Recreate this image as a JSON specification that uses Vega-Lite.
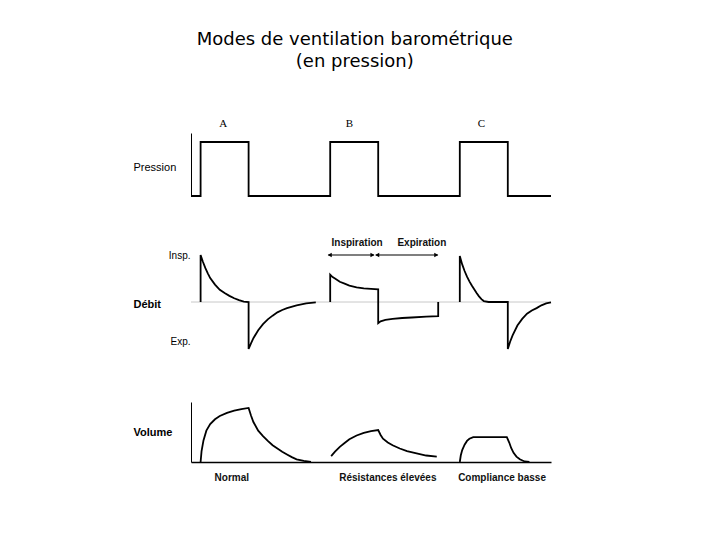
{
  "$schema": "https://vega.github.io/schema/vega-lite/v6.json",
  "background": "white",
  "padding": {"left": 133, "top": 31, "right": 5, "bottom": 5},
  "title": {
    "text": ["Modes de ventilation barométrique", "(en pression)"],
    "font": "DejaVu Sans",
    "fontSize": 18,
    "fontWeight": "normal",
    "color": "black",
    "lineHeight": 22,
    "anchor": "middle",
    "offset": 47,
    "dx": 11
  },
  "spacing": 53,
  "bounds": "flush",
  "config": {
    "view": {"stroke": null},
    "axis": {
      "grid": false,
      "ticks": false,
      "labels": false,
      "domainColor": "black",
      "titleColor": "black",
      "titleFont": "Liberation Sans",
      "titleFontSize": 11,
      "titleFontWeight": "bold",
      "titleAngle": 0,
      "titleAlign": "left",
      "titleBaseline": "middle",
      "titleX": -58,
      "labelFont": "Liberation Sans",
      "labelColor": "black"
    }
  },
  "datasets": {
    "pression": [
      {"i": 0, "t": 0, "v": 0}, {"i": 1, "t": 0.2, "v": 0}, {"i": 2, "t": 0.2, "v": 1},
      {"i": 3, "t": 1.2, "v": 1}, {"i": 4, "t": 1.2, "v": 0}, {"i": 5, "t": 2.9, "v": 0},
      {"i": 6, "t": 2.9, "v": 1}, {"i": 7, "t": 3.9, "v": 1}, {"i": 8, "t": 3.9, "v": 0},
      {"i": 9, "t": 5.6, "v": 0}, {"i": 10, "t": 5.6, "v": 1}, {"i": 11, "t": 6.6, "v": 1},
      {"i": 12, "t": 6.6, "v": 0}, {"i": 13, "t": 7.5, "v": 0}
    ],
    "lettres": [
      {"t": 0.67, "v": 1.33, "texte": "A"},
      {"t": 3.3, "v": 1.33, "texte": "B"},
      {"t": 6.05, "v": 1.33, "texte": "C"}
    ],
    "zero": [
      {"t": 0, "t2": 7.5, "v": 0}
    ],
    "debit": [
      {"seg": "A", "i": 0, "t": 0.2, "v": 0}, {"seg": "A", "i": 1, "t": 0.2, "v": 1.0},
      {"seg": "A", "i": 2, "t": 0.25, "v": 0.85}, {"seg": "A", "i": 3, "t": 0.3, "v": 0.72},
      {"seg": "A", "i": 4, "t": 0.35, "v": 0.61}, {"seg": "A", "i": 5, "t": 0.4, "v": 0.51},
      {"seg": "A", "i": 6, "t": 0.5, "v": 0.37}, {"seg": "A", "i": 7, "t": 0.6, "v": 0.26},
      {"seg": "A", "i": 8, "t": 0.7, "v": 0.19}, {"seg": "A", "i": 9, "t": 0.8, "v": 0.13},
      {"seg": "A", "i": 10, "t": 0.9, "v": 0.08}, {"seg": "A", "i": 11, "t": 1.0, "v": 0.04},
      {"seg": "A", "i": 12, "t": 1.1, "v": 0.01}, {"seg": "A", "i": 13, "t": 1.2, "v": 0},
      {"seg": "A", "i": 14, "t": 1.2, "v": -1.0}, {"seg": "A", "i": 15, "t": 1.25, "v": -0.88},
      {"seg": "A", "i": 16, "t": 1.3, "v": -0.77}, {"seg": "A", "i": 17, "t": 1.4, "v": -0.6},
      {"seg": "A", "i": 18, "t": 1.5, "v": -0.47}, {"seg": "A", "i": 19, "t": 1.6, "v": -0.37},
      {"seg": "A", "i": 20, "t": 1.7, "v": -0.29}, {"seg": "A", "i": 21, "t": 1.8, "v": -0.22},
      {"seg": "A", "i": 22, "t": 1.9, "v": -0.17}, {"seg": "A", "i": 23, "t": 2.0, "v": -0.13},
      {"seg": "A", "i": 24, "t": 2.2, "v": -0.07}, {"seg": "A", "i": 25, "t": 2.4, "v": -0.03},
      {"seg": "A", "i": 26, "t": 2.6, "v": -0.01},
      {"seg": "B", "i": 30, "t": 2.9, "v": 0}, {"seg": "B", "i": 31, "t": 2.9, "v": 0.58},
      {"seg": "B", "i": 32, "t": 2.95, "v": 0.53}, {"seg": "B", "i": 33, "t": 3.0, "v": 0.5},
      {"seg": "B", "i": 34, "t": 3.1, "v": 0.43}, {"seg": "B", "i": 35, "t": 3.2, "v": 0.39},
      {"seg": "B", "i": 36, "t": 3.3, "v": 0.35}, {"seg": "B", "i": 37, "t": 3.45, "v": 0.31},
      {"seg": "B", "i": 38, "t": 3.6, "v": 0.29}, {"seg": "B", "i": 39, "t": 3.75, "v": 0.28},
      {"seg": "B", "i": 40, "t": 3.9, "v": 0.27}, {"seg": "B", "i": 41, "t": 3.9, "v": -0.45},
      {"seg": "B", "i": 42, "t": 3.95, "v": -0.41}, {"seg": "B", "i": 43, "t": 4.05, "v": -0.38},
      {"seg": "B", "i": 44, "t": 4.2, "v": -0.36}, {"seg": "B", "i": 45, "t": 4.4, "v": -0.34},
      {"seg": "B", "i": 46, "t": 4.6, "v": -0.33}, {"seg": "B", "i": 47, "t": 4.9, "v": -0.31},
      {"seg": "B", "i": 48, "t": 5.15, "v": -0.3}, {"seg": "B", "i": 49, "t": 5.15, "v": 0},
      {"seg": "C", "i": 60, "t": 5.6, "v": 0}, {"seg": "C", "i": 61, "t": 5.6, "v": 0.98},
      {"seg": "C", "i": 62, "t": 5.65, "v": 0.8}, {"seg": "C", "i": 63, "t": 5.7, "v": 0.66},
      {"seg": "C", "i": 64, "t": 5.75, "v": 0.54}, {"seg": "C", "i": 65, "t": 5.8, "v": 0.44},
      {"seg": "C", "i": 66, "t": 5.85, "v": 0.35}, {"seg": "C", "i": 67, "t": 5.9, "v": 0.27},
      {"seg": "C", "i": 68, "t": 5.95, "v": 0.19}, {"seg": "C", "i": 69, "t": 6.0, "v": 0.12},
      {"seg": "C", "i": 70, "t": 6.05, "v": 0.06}, {"seg": "C", "i": 71, "t": 6.1, "v": 0.02},
      {"seg": "C", "i": 72, "t": 6.2, "v": 0}, {"seg": "C", "i": 73, "t": 6.6, "v": 0},
      {"seg": "C", "i": 74, "t": 6.6, "v": -1.0}, {"seg": "C", "i": 75, "t": 6.65, "v": -0.84},
      {"seg": "C", "i": 76, "t": 6.7, "v": -0.71}, {"seg": "C", "i": 77, "t": 6.8, "v": -0.5},
      {"seg": "C", "i": 78, "t": 6.9, "v": -0.36}, {"seg": "C", "i": 79, "t": 7.0, "v": -0.25},
      {"seg": "C", "i": 80, "t": 7.1, "v": -0.18}, {"seg": "C", "i": 81, "t": 7.2, "v": -0.13},
      {"seg": "C", "i": 82, "t": 7.3, "v": -0.07}, {"seg": "C", "i": 83, "t": 7.4, "v": -0.03},
      {"seg": "C", "i": 84, "t": 7.5, "v": -0.01}
    ],
    "fleches": [
      {"seg": "insp", "t": 2.86, "v": 1.0}, {"seg": "insp", "t": 3.81, "v": 1.0},
      {"seg": "exp", "t": 3.85, "v": 1.0}, {"seg": "exp", "t": 5.14, "v": 1.0}
    ],
    "pointes": [
      {"t": 2.89, "v": 1.0, "dir": "g"}, {"t": 3.78, "v": 1.0, "dir": "d"},
      {"t": 3.88, "v": 1.0, "dir": "g"}, {"t": 5.11, "v": 1.0, "dir": "d"}
    ],
    "phases": [
      {"t": 3.46, "v": 1.26, "texte": "Inspiration"},
      {"t": 4.81, "v": 1.26, "texte": "Expiration"}
    ],
    "volume": [
      {"seg": "A", "i": 0, "t": 0.2, "v": 0}, {"seg": "A", "i": 1, "t": 0.22, "v": 0.2},
      {"seg": "A", "i": 2, "t": 0.26, "v": 0.4}, {"seg": "A", "i": 3, "t": 0.32, "v": 0.58},
      {"seg": "A", "i": 4, "t": 0.4, "v": 0.7}, {"seg": "A", "i": 5, "t": 0.5, "v": 0.79},
      {"seg": "A", "i": 6, "t": 0.6, "v": 0.85}, {"seg": "A", "i": 7, "t": 0.75, "v": 0.91},
      {"seg": "A", "i": 8, "t": 0.9, "v": 0.95}, {"seg": "A", "i": 9, "t": 1.05, "v": 0.98},
      {"seg": "A", "i": 10, "t": 1.2, "v": 1.0}, {"seg": "A", "i": 11, "t": 1.25, "v": 0.86},
      {"seg": "A", "i": 12, "t": 1.3, "v": 0.74}, {"seg": "A", "i": 13, "t": 1.4, "v": 0.58},
      {"seg": "A", "i": 14, "t": 1.5, "v": 0.48}, {"seg": "A", "i": 15, "t": 1.6, "v": 0.39},
      {"seg": "A", "i": 16, "t": 1.7, "v": 0.31}, {"seg": "A", "i": 17, "t": 1.8, "v": 0.25},
      {"seg": "A", "i": 18, "t": 1.9, "v": 0.19}, {"seg": "A", "i": 19, "t": 2.0, "v": 0.14},
      {"seg": "A", "i": 20, "t": 2.1, "v": 0.09}, {"seg": "A", "i": 21, "t": 2.2, "v": 0.05},
      {"seg": "A", "i": 22, "t": 2.35, "v": 0.02}, {"seg": "A", "i": 23, "t": 2.5, "v": 0},
      {"seg": "B", "i": 30, "t": 2.92, "v": 0.11}, {"seg": "B", "i": 31, "t": 3.0, "v": 0.19},
      {"seg": "B", "i": 32, "t": 3.1, "v": 0.28}, {"seg": "B", "i": 33, "t": 3.2, "v": 0.35},
      {"seg": "B", "i": 34, "t": 3.3, "v": 0.42}, {"seg": "B", "i": 35, "t": 3.45, "v": 0.49},
      {"seg": "B", "i": 36, "t": 3.6, "v": 0.54}, {"seg": "B", "i": 37, "t": 3.75, "v": 0.57},
      {"seg": "B", "i": 38, "t": 3.9, "v": 0.59}, {"seg": "B", "i": 39, "t": 3.95, "v": 0.5},
      {"seg": "B", "i": 40, "t": 4.0, "v": 0.43}, {"seg": "B", "i": 41, "t": 4.1, "v": 0.36},
      {"seg": "B", "i": 42, "t": 4.2, "v": 0.31}, {"seg": "B", "i": 43, "t": 4.35, "v": 0.25},
      {"seg": "B", "i": 44, "t": 4.5, "v": 0.2}, {"seg": "B", "i": 45, "t": 4.7, "v": 0.16},
      {"seg": "B", "i": 46, "t": 4.9, "v": 0.12}, {"seg": "B", "i": 47, "t": 5.12, "v": 0.1},
      {"seg": "C", "i": 60, "t": 5.6, "v": 0}, {"seg": "C", "i": 61, "t": 5.62, "v": 0.12},
      {"seg": "C", "i": 62, "t": 5.65, "v": 0.22}, {"seg": "C", "i": 63, "t": 5.7, "v": 0.32},
      {"seg": "C", "i": 64, "t": 5.75, "v": 0.39}, {"seg": "C", "i": 65, "t": 5.8, "v": 0.43},
      {"seg": "C", "i": 66, "t": 5.88, "v": 0.46}, {"seg": "C", "i": 67, "t": 6.0, "v": 0.46},
      {"seg": "C", "i": 68, "t": 6.58, "v": 0.46}, {"seg": "C", "i": 69, "t": 6.63, "v": 0.36},
      {"seg": "C", "i": 70, "t": 6.67, "v": 0.26}, {"seg": "C", "i": 71, "t": 6.72, "v": 0.17},
      {"seg": "C", "i": 72, "t": 6.78, "v": 0.1}, {"seg": "C", "i": 73, "t": 6.85, "v": 0.05},
      {"seg": "C", "i": 74, "t": 6.95, "v": 0.01}, {"seg": "C", "i": 75, "t": 7.05, "v": 0}
    ],
    "cas": [
      {"t": 0.85, "v": -0.3, "texte": "Normal"},
      {"t": 4.1, "v": -0.3, "texte": "Résistances élevées"},
      {"t": 6.48, "v": -0.3, "texte": "Compliance basse"}
    ]
  },
  "vconcat": [
    {
      "width": 360,
      "height": 63,
      "encoding": {
        "x": {"field": "t", "type": "quantitative", "scale": {"domain": [0, 7.5], "nice": false, "zero": false}, "axis": null},
        "y": {"field": "v", "type": "quantitative", "scale": {"domain": [0, 1.167], "nice": false}, "axis": {"title": "Pression", "titleY": 34, "titleFontWeight": "normal", "domain": true, "domainWidth": 1}}
      },
      "layer": [
        {
          "data": {"name": "pression"},
          "mark": {"type": "line", "color": "black", "strokeWidth": 1.8, "strokeJoin": "miter"},
          "encoding": {"order": {"field": "i", "type": "quantitative"}}
        },
        {
          "data": {"name": "lettres"},
          "mark": {"type": "text", "font": "Liberation Serif", "fontSize": 11, "color": "black"},
          "encoding": {"text": {"field": "texte"}}
        }
      ]
    },
    {
      "width": 360,
      "height": 100,
      "encoding": {
        "x": {"field": "t", "type": "quantitative", "scale": {"domain": [0, 7.5], "nice": false, "zero": false}, "axis": null},
        "y": {"field": "v", "type": "quantitative", "scale": {"domain": [-1, 1.128], "nice": false}, "axis": {"title": "Débit", "titleY": 55, "domain": false, "labels": true, "values": [1, -0.85], "labelExpr": "datum.value > 0 ? 'Insp.' : 'Exp.'", "labelFontSize": 10, "labelPadding": 1, "labelBaseline": "middle"}}
      },
      "layer": [
        {
          "data": {"name": "zero"},
          "mark": {"type": "rule", "color": "#c8c8c8", "strokeWidth": 1},
          "encoding": {"x2": {"field": "t2"}}
        },
        {
          "data": {"name": "debit"},
          "mark": {"type": "line", "color": "black", "strokeWidth": 1.8, "strokeJoin": "miter"},
          "encoding": {"detail": {"field": "seg"}, "order": {"field": "i", "type": "quantitative"}}
        },
        {
          "data": {"name": "fleches"},
          "mark": {"type": "line", "color": "black", "strokeWidth": 1.2},
          "encoding": {"detail": {"field": "seg"}}
        },
        {
          "data": {"name": "pointes"},
          "mark": {"type": "point", "filled": true, "color": "black", "opacity": 1, "size": 22},
          "encoding": {"shape": {"field": "dir", "type": "nominal", "scale": {"domain": ["g", "d"], "range": ["triangle-left", "triangle-right"]}, "legend": null}}
        },
        {
          "data": {"name": "phases"},
          "mark": {"type": "text", "font": "Liberation Sans", "fontSize": 10, "fontWeight": "bold", "color": "#111"},
          "encoding": {"text": {"field": "texte"}}
        }
      ]
    },
    {
      "width": 360,
      "height": 60,
      "encoding": {
        "x": {"field": "t", "type": "quantitative", "scale": {"domain": [0, 7.5], "nice": false, "zero": false}, "axis": {"title": null, "domain": true, "domainWidth": 1.5}},
        "y": {"field": "v", "type": "quantitative", "scale": {"domain": [0, 1.11], "nice": false}, "axis": {"title": "Volume", "titleY": 30, "domain": true, "domainWidth": 1}}
      },
      "layer": [
        {
          "data": {"name": "volume"},
          "mark": {"type": "line", "color": "black", "strokeWidth": 1.8},
          "encoding": {"detail": {"field": "seg"}, "order": {"field": "i", "type": "quantitative"}}
        },
        {
          "data": {"name": "cas"},
          "mark": {"type": "text", "font": "Liberation Sans", "fontSize": 10, "fontWeight": "bold", "color": "#111"},
          "encoding": {"text": {"field": "texte"}}
        }
      ]
    }
  ]
}
